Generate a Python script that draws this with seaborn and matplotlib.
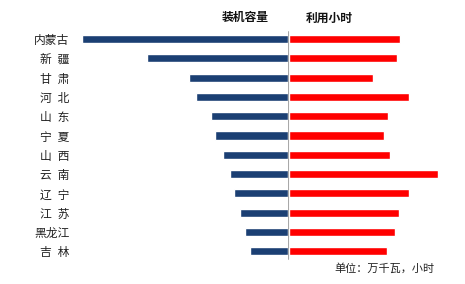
import matplotlib
matplotlib.use("Agg")
import matplotlib.pyplot as plt
import seaborn as sns
import pandas as pd

sns.set_theme(style="white")
plt.rcParams['font.family'] = ['Noto Sans CJK SC', 'DejaVu Sans']

provinces = ["内蒙古", "新\u2002疆", "甘\u2002肃", "河\u2002北", "山\u2002东", "宁\u2002夏",
             "山\u2002西", "云\u2002南", "辽\u2002宁", "江\u2002苏", "黑龙江", "吉\u2002林"]
capacity = [2040, 1395, 980, 905, 755, 715, 640, 570, 530, 470, 420, 375]      # 万千瓦
hours = [1880, 1815, 1410, 2015, 1665, 1595, 1700, 2505, 2015, 1850, 1780, 1645]  # 小时

df = pd.DataFrame({"province": provinces, "capacity": capacity, "hours": hours})

W, H = 465, 284
fig = plt.figure(figsize=(W / 100, H / 100), dpi=100)

top_px, bot_px = 29.35, 261.0
center_px = 287.5
axL = fig.add_axes([75 / W, (H - bot_px) / H, (center_px - 75) / W, (bot_px - top_px) / H])
axR = fig.add_axes([center_px / W, (H - bot_px) / H, (460 - center_px) / W, (bot_px - top_px) / H],
                   sharey=axL)

sns.barplot(data=df, y="province", x="capacity", ax=axL, color="#1B3F73",
            width=0.42, saturation=1, orient="h")
sns.barplot(data=df, y="province", x="hours", ax=axR, color="#FF0000",
            width=0.42, saturation=1, orient="h")

axL.set_xlim(2105, 0)
axR.set_xlim(-20, 2881)
axR.axvline(-10, color="#A8A8A8", lw=1.5, ymin=0.01, ymax=0.99, zorder=5)

for ax in (axL, axR):
    for s in ax.spines.values():
        s.set_visible(False)
    ax.set_xticks([])
    ax.set_xlabel("")
    ax.set_ylabel("")
    ax.grid(False)
    ax.patch.set_alpha(0)

axL.tick_params(axis="y", length=0, pad=4, labelsize=8.5, labelcolor="#222222")
axR.tick_params(axis="y", length=0, labelleft=False)

fig.text(245 / W, 1 - 18 / H, "装机容量", ha="center", va="center",
         fontsize=8.5, fontweight="bold", color="#111111")
fig.text(329 / W, 1 - 18 / H, "利用小时", ha="center", va="center",
         fontsize=8.5, fontweight="bold", color="#111111")
fig.text(334 / W, 1 - 268.7 / H, "单位：万千瓦，小时", ha="left", va="center",
         fontsize=8, color="#222222")

fig.savefig("out.png", dpi=100)
